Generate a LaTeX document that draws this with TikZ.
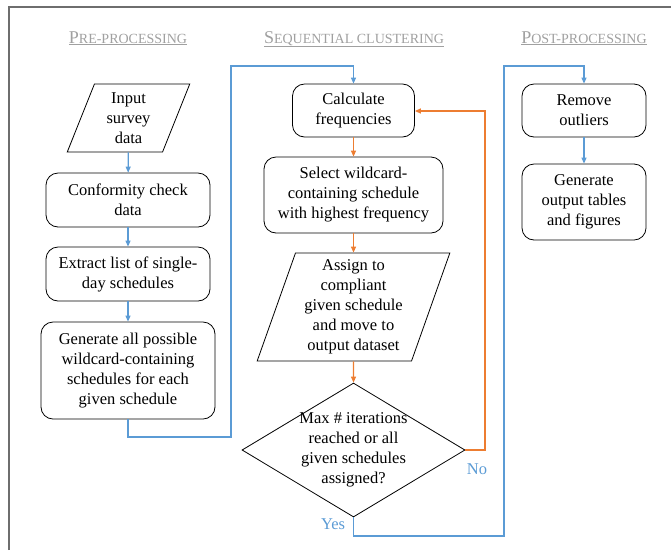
\documentclass[tikz,border=0pt]{standalone}
\usepackage{fontspec}
\setmainfont{Liberation Serif}
\usetikzlibrary{shapes.geometric,arrows.meta,positioning}

\definecolor{flowblue}{RGB}{91,155,213}
\definecolor{floworange}{RGB}{237,125,49}
\definecolor{titlegray}{RGB}{160,160,160}
\definecolor{framegray}{RGB}{110,110,110}

\newcommand{\fakesc}[2]{#1{\fontsize{14}{16}\selectfont #2}}

\tikzset{
    procbox/.style={draw, line width=0.8pt, rounded corners=12pt, align=center, inner sep=2pt},
    iobox/.style={draw, line width=0.8pt, trapezium, trapezium left angle=71, trapezium right angle=109,
        trapezium stretches=true, align=center, inner sep=0pt},
    decision/.style={draw, line width=0.8pt, diamond, align=center, inner sep=-8pt},
    phasetitle/.style={text=titlegray, font=\fontsize{18}{20}\selectfont},
    blueflow/.style={draw=flowblue, line width=1.1pt, -{Triangle[length=6pt,width=5pt]}},
    orangeflow/.style={draw=floworange, line width=1.3pt, -{Triangle[length=6pt,width=5pt]}},
    answer/.style={text=flowblue, font=\fontsize{16.5}{20}\selectfont}
}

\begin{document}
\begin{tikzpicture}[x=1pt, y=-1pt, font=\fontsize{16.5}{20}\selectfont]
    \useasboundingbox (0,0) rectangle (671,550);
    \draw[framegray, line width=1.6pt] (9,550) -- (9,7) -- (671,7);

    % phase titles
    \node[phasetitle, anchor=base] (pretitle) at (128,43) {\underline{\fakesc{P}{RE-PROCESSING}}};
    \node[phasetitle, anchor=base] (seqtitle) at (354,43) {\underline{\fakesc{S}{EQUENTIAL CLUSTERING}}};
    \node[phasetitle, anchor=base] (posttitle) at (584,43) {\underline{\fakesc{P}{OST-PROCESSING}}};

    % pre-processing
    \node[iobox, minimum width=123pt, minimum height=68pt] (input) at (128.5,118) {Input\\survey\\data};
    \node[procbox, minimum width=164pt, minimum height=54pt] (check) at (128,200) {Conformity check\\data};
    \node[procbox, minimum width=164pt, minimum height=54pt] (extract) at (128,274) {Extract list of single-\\day schedules};
    \node[procbox, minimum width=174pt, minimum height=97pt] (generate) at (128,370.5) {Generate all possible\\wildcard-containing\\schedules for each\\given schedule};

    % sequential clustering
    \node[procbox, minimum width=122pt, minimum height=53pt] (calc) at (353.5,110.5) {Calculate\\frequencies};
    \node[procbox, minimum width=179pt, minimum height=76pt] (select) at (353.5,195) {Select wildcard-\\containing schedule\\with highest frequency};
    \node[iobox, minimum width=193pt, minimum height=108pt] (assign) at (353.5,307) {Assign to\\compliant\\given schedule\\and move to\\output dataset};
    \node[decision, minimum width=223pt, minimum height=134pt, aspect=1.66] (check2) at (353.5,450) {Max \# iterations\\reached or all\\given schedules\\assigned?};

    % post-processing
    \node[procbox, minimum width=124pt, minimum height=53pt] (outliers) at (584,110.5) {Remove\\outliers};
    \node[procbox, minimum width=124pt, minimum height=76pt] (tables) at (584,202) {Generate\\output tables\\and figures};

    % connectors
    \draw[blueflow] (input) -- (check);
    \draw[blueflow] (check) -- (extract);
    \draw[blueflow] (extract) -- (generate);
    \draw[blueflow] (generate.south) |- (231,437) |- (353.5,66) -- (calc.north);
    \draw[orangeflow] (calc) -- (select);
    \draw[orangeflow] (select) -- (assign);
    \draw[orangeflow] (assign.south) -- (check2.north);
    \draw[orangeflow] (check2.east) -| (485,111) -- (calc.east |- 0,111);
    \draw[blueflow] (check2.south) |- (504,536) |- (584,66) -- (outliers.north);
    \draw[blueflow] (outliers) -- (tables);

    \node[answer] (no) at (477,469) {No};
    \node[answer] (yes) at (333,524) {Yes};
\end{tikzpicture}
\end{document}
